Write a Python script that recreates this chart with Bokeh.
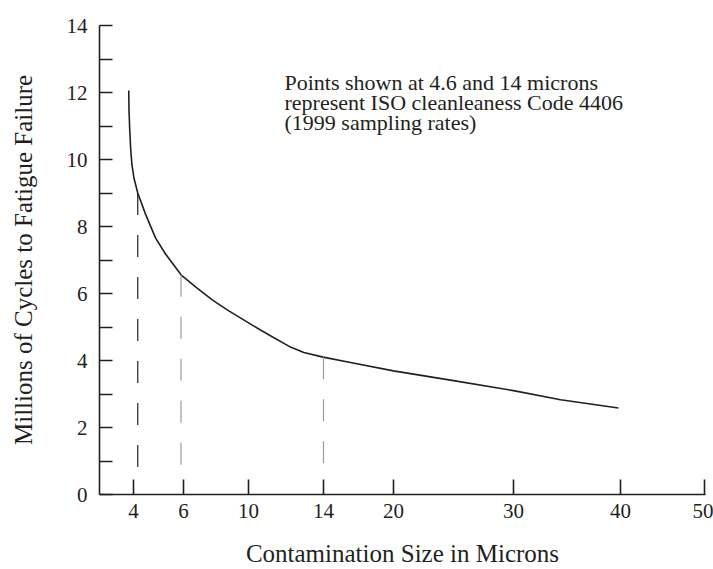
import numpy as np
from bokeh.plotting import figure
from bokeh.models import FixedTicker, Label, Range1d
from bokeh.embed import file_html
from bokeh.resources import INLINE

# ---- data ----
micron = [3.81, 3.82, 3.85, 3.89, 3.94, 4.02, 4.17, 4.48, 4.88, 5.28, 5.91,
          6.84, 7.77, 8.69, 10.55, 11.17, 12.24, 12.95, 13.98, 16.31, 20.0,
          25.0, 30.0, 34.4, 39.8]
cycles = [12.06, 11.47, 10.87, 10.28, 9.83, 9.44, 9.00, 8.37, 7.66, 7.18, 6.55,
          6.16, 5.81, 5.51, 4.94, 4.74, 4.40, 4.24, 4.10, 3.94, 3.69,
          3.40, 3.10, 2.83, 2.58]

iso_micron = [4.17, 5.9, 14.0]
iso_bottom = [0.35, 0.5, 0.75]
iso_colors = ["#222222", "#9a9a9a", "#9a9a9a"]

tick_microns = [4, 6, 10, 14, 20, 30, 40, 50]
tick_labels = ["4", "6", "10", "14", "20", "30", "40", "50"]
# positions of the ticks along the hand-drawn (non-uniform) axis scale
tick_axis = [34, 84, 149, 224, 294, 414, 521, 605]

y_major = [0, 2, 4, 6, 8, 10, 12, 14]
y_minor = [1, 3, 5, 7, 9, 11, 13]

annotation = ["Points shown at 4.6 and 14 microns",
              "represent ISO cleanleaness Code 4406",
              "(1999 sampling rates)"]


def to_axis(m):
    m = np.asarray(m, dtype=float)
    slope = (tick_axis[1] - tick_axis[0]) / (tick_microns[1] - tick_microns[0])
    below = tick_axis[0] + (m - tick_microns[0]) * slope
    return np.where(m < tick_microns[0], below, np.interp(m, tick_microns, tick_axis))


FONT = "Liberation Serif"
INK = "#231f20"

p = figure(width=713, height=569, x_range=Range1d(0, 606), y_range=Range1d(0, 14),
           output_backend="svg", toolbar_location=None,
           min_border_left=99, min_border_right=8, min_border_top=25, min_border_bottom=74)
p.outline_line_color = None
p.xgrid.visible = False
p.ygrid.visible = False
p.background_fill_color = "white"
p.border_fill_color = "white"

# curve
p.line(to_axis(micron), cycles, line_color=INK, line_width=1.6)

# dashed ISO marker lines
iso_top = np.interp(to_axis(iso_micron), to_axis(micron), cycles)
for xm, top, bot, col in zip(iso_micron, iso_top, iso_bottom, iso_colors):
    xa = float(to_axis([xm])[0])
    p.segment(x0=[xa], y0=[top], x1=[xa], y1=[bot], line_color=col,
              line_width=1.2, line_dash="22 20")

# axes
for ax in (p.xaxis[0], p.yaxis[0]):
    ax.axis_line_color = INK
    ax.axis_line_width = 1.6
    ax.major_tick_line_color = INK
    ax.major_tick_line_width = 1.6
    ax.minor_tick_line_color = INK
    ax.minor_tick_line_width = 1.6
    ax.major_tick_out = 0
    ax.minor_tick_out = 0
    ax.major_label_text_font = FONT
    ax.major_label_text_font_size = "21px"
    ax.major_label_text_color = INK
    ax.axis_label_text_font = FONT
    ax.axis_label_text_font_size = "25px"
    ax.axis_label_text_font_style = "normal"
    ax.axis_label_text_color = INK

xa_ticks = [float(v) for v in to_axis(tick_microns)]
p.xaxis.ticker = FixedTicker(ticks=xa_ticks)
p.xaxis.major_label_overrides = {t: l for t, l in zip(xa_ticks, tick_labels)}
p.xaxis.major_tick_in = 15
p.xaxis.minor_tick_in = 0
p.xaxis.major_label_standoff = 9
p.xaxis.axis_label = "Contamination Size in Microns"
p.xaxis.axis_label_standoff = 19

p.yaxis.ticker = FixedTicker(ticks=y_major, minor_ticks=y_minor)
p.yaxis.major_tick_in = 13
p.yaxis.minor_tick_in = 13
p.yaxis.major_label_standoff = 12
p.yaxis.axis_label = "Millions of Cycles to Fatigue Failure"
p.yaxis.axis_label_standoff = 27

# annotation text
for i, line in enumerate(annotation):
    p.add_layout(Label(x=185, y=12.30 - i * 0.60, text=line,
                       text_font=FONT, text_font_size="22px", text_color=INK,
                       text_align="left", text_baseline="alphabetic"))

open("out.html", "w").write(file_html(p, INLINE))
